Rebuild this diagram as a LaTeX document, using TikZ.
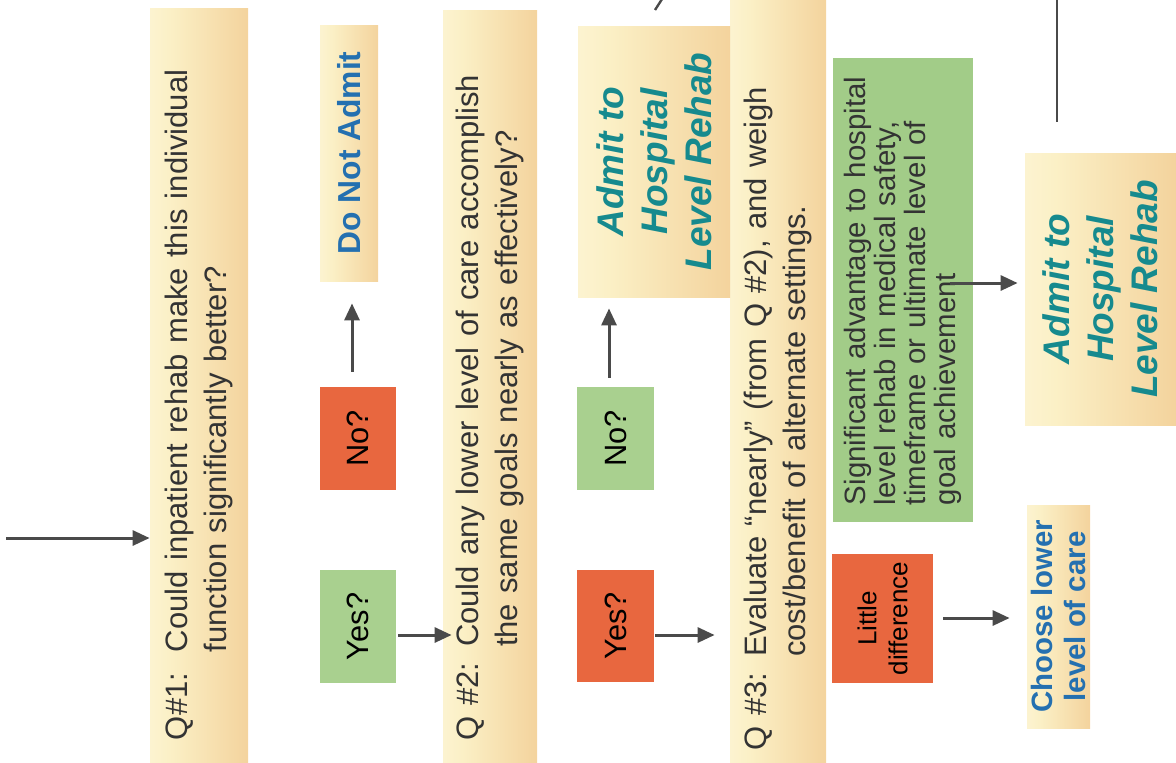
\documentclass[tikz,border=0pt]{standalone}
\usepackage{fontspec}
\setmainfont{Liberation Sans}
\usetikzlibrary{arrows.meta,calc}
\definecolor{cA}{HTML}{FFFBEA}
\definecolor{cB}{HTML}{FBF0C6}
\definecolor{cC}{HTML}{F3D19A}
\definecolor{cD}{HTML}{EAB578}
\definecolor{redbox}{HTML}{E8673F}
\definecolor{greenbox}{HTML}{A9D08F}
\definecolor{greensig}{HTML}{A2CC88}
\definecolor{tealtext}{HTML}{168A8E}
\definecolor{bluetext}{HTML}{2470B0}
\definecolor{qtext}{HTML}{333333}
\definecolor{arrgray}{HTML}{4A4A4A}
\pgfdeclarehorizontalshading{boxshade}{100bp}{color(0bp)=(cA); color(35bp)=(cB); color(78bp)=(cC); color(100bp)=(cD)}
\tikzset{
  shadebox/.style={rotate=90, shade, shading=boxshade, shading angle=0},
  qbox/.style={shadebox, align=left, inner ysep=0pt, text=qtext,
    font=\fontsize{15.5}{19.5}\selectfont},
  ansbox/.style={rotate=90, inner sep=0pt, text=black,
    font=\fontsize{15.4}{18}\selectfont},
  admitbox/.style={shadebox, align=center, inner sep=0pt, text=tealtext,
    font=\bfseries\itshape\fontsize{18.5}{22}\selectfont},
  arr/.style={draw=arrgray, line width=1.5pt, -{Triangle[length=8.5pt,width=7.5pt]}},
  frag/.style={draw=arrgray, line width=1.2pt}
}
\begin{document}
\begin{tikzpicture}[x=0.5pt,y=-0.5pt]
\useasboundingbox (0,0) rectangle (1176,762);
% question boxes
\node[qbox, minimum height=49pt, text width=355pt, inner xsep=11pt] (q1) at (199,385)
  {Q\#1:\ \ Could inpatient rehab make this individual\\\phantom{Q\#1:\ \ }function significantly better?};
\node[qbox, minimum height=47pt, text width=354pt, inner xsep=11pt] (q2) at (490,386)
  {Q \#2: Could any lower level of care accomplish\\\phantom{Q \#2: }the same goals nearly as effectively?};
\node[qbox, minimum height=48pt, text width=369pt, inner xsep=6pt] (q3) at (778,381)
  {Q \#3: Evaluate “nearly” (from Q \#2), and weigh\\\phantom{Q \#3: }cost/benefit of alternate settings.};
% answers column 1
\node[shadebox, minimum width=128pt, minimum height=29pt, inner sep=0pt, text=bluetext,
  font=\bfseries\fontsize{15.9}{18}\selectfont] (dna) at (349,153) {Do Not Admit};
\node[ansbox, fill=redbox, minimum width=51.5pt, minimum height=38pt] (no1) at (358,438.5) {No?};
\node[ansbox, fill=greenbox, minimum width=56.5pt, minimum height=38pt] (yes1) at (358,626.5) {Yes?};
% answers column 2
\node[admitbox, minimum width=135.5pt, minimum height=76pt] (adm1) at (654,161.5)
  {Admit to\\Hospital\\Level Rehab};
\node[ansbox, fill=greenbox, minimum width=51.5pt, minimum height=38.5pt] (no2) at (615.5,438.5) {No?};
\node[ansbox, fill=redbox, minimum width=56pt, minimum height=38.5pt] (yes2) at (615.5,626) {Yes?};
% column 3
\node[rotate=90, fill=greensig, align=left, text width=215pt, inner xsep=8.5pt, inner ysep=0pt,
  minimum height=70pt, text=qtext, font=\fontsize{14.7}{15}\selectfont] (sig) at (903,290)
  {Significant advantage to hospital\\level rehab in medical safety,\\timeframe or ultimate level of\\goal achievement};
\node[ansbox, fill=redbox, align=center, minimum width=64.5pt, minimum height=50.5pt,
  font=\fontsize{13}{15.5}\selectfont] (ltd) at (882.5,618.5) {Little\\difference};
% final outcomes
\node[admitbox, minimum width=136pt, minimum height=75.5pt] (adm2) at (1100.5,289)
  {Admit to\\Hospital\\Level Rehab};
\node[shadebox, align=center, minimum width=111.5pt, minimum height=31.5pt, inner sep=0pt,
  text=bluetext, font=\bfseries\fontsize{14.7}{16.5}\selectfont] (cho) at (1058.5,616.5)
  {Choose lower\\level of care};
% connectors
\coordinate (inS) at (6,538);
\coordinate (yA) at (0,635);
\coordinate (yS) at (0,283);
\coordinate (yL) at (0,618);
\draw[arr] (inS) -- (inS -| q1.north);
\draw[arr] ($(no1.east)+(-6,-15)$) -- ($(dna.west)+(3,22)$);
\draw[arr] ($(yes1.south |- yA)+(2,0)$) -- ($(q2.north |- yA)+(9,0)$);
\draw[arr] ($(no2.east)+(-6.5,-9)$) -- ($(adm1.west)+(-45,11)$);
\draw[arr] ($(yes2.south |- yA)+(1,0)$) -- ($(q3.north |- yA)+(-15,0)$);
\draw[arr] ($(sig.south |- yS)+(-23,0)$) -- ($(adm2.north |- yS)+(-7,0)$);
\draw[arr] ($(ltd.south |- yL)+(10,0)$) -- ($(cho.north |- yL)+(-17,0)$);
% cropped connector fragments
\coordinate (f1) at (655,10);
\coordinate (f2) at (664,-4);
\coordinate (f3) at (1057,-4);
\coordinate (f4) at (1057,122);
\draw[frag] (f1) -- (f2);
\draw[frag, line width=1pt] (f3) -- (f4);
\end{tikzpicture}
\end{document}
